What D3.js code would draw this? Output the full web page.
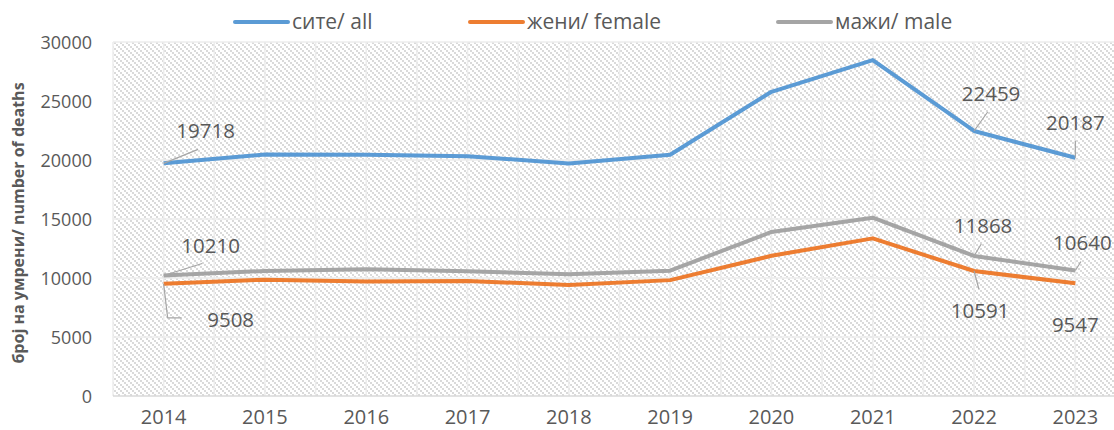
<!DOCTYPE html>
<html>
<head>
<meta charset="utf-8">
<script src="https://cdn.jsdelivr.net/npm/d3@7"></script>
<style>
  body { margin: 0; background: #fff; }
  text { font-family: "Open Sans", sans-serif; fill: #595959; }
</style>
</head>
<body>
<div id="chart"></div>
<script>
const years = ["2014", "2015", "2016", "2017", "2018", "2019", "2020", "2021", "2022", "2023"];
const allDeaths = [19718, 20461, 20451, 20318, 19710, 20446, 25781, 28471, 22459, 20187];
const femaleDeaths = [9508, 9860, 9700, 9750, 9400, 9820, 11880, 13360, 10591, 9547];
const maleDeaths = [10210, 10600, 10750, 10570, 10310, 10620, 13900, 15110, 11868, 10640];
const yTicks = [0, 5000, 10000, 15000, 20000, 25000, 30000];

const series = [
  { name: "сите/ all", values: allDeaths, color: "#5B9BD5", legendX: 235,
    labels: { 0: [42, -32], 8: [17, -37], 9: [0, -35] } },
  { name: "жени/ female", values: femaleDeaths, color: "#ED7D31", legendX: 470,
    labels: { 0: [67, 36], 8: [6, 40], 9: [0, 42] } },
  { name: "мажи/ male", values: maleDeaths, color: "#A5A5A5", legendX: 778,
    labels: { 0: [47, -30], 8: [9, -30], 9: [7, -27] } }
];

const W = 1114, H = 430;
const margin = { left: 113, top: 42, bottom: 34 };
const step = 101.3;

const svg = d3.select("#chart").append("svg")
  .attr("width", W).attr("height", H);

// hatch pattern (downward diagonal made of small squares)
const defs = svg.append("defs");
const pat = defs.append("pattern")
  .attr("id", "hatch")
  .attr("patternUnits", "userSpaceOnUse")
  .attr("width", 6).attr("height", 6);
pat.append("rect").attr("width", 6).attr("height", 6).attr("fill", "#fff");
[0, 2, 4].forEach(d => {
  pat.append("rect").attr("x", d).attr("y", d).attr("width", 2).attr("height", 2).attr("fill", "#dadada");
});

const x = d3.scaleBand().domain(years).range([margin.left, margin.left + step * years.length]);
const y = d3.scaleLinear().domain([0, 30000]).range([H - margin.bottom, margin.top]);
const xc = d => x(d) + x.bandwidth() / 2;

svg.append("rect")
  .attr("x", margin.left).attr("y", y(30000))
  .attr("width", step * years.length).attr("height", y(0) - y(30000))
  .attr("fill", "url(#hatch)");

// gridlines
const grid = svg.append("g").attr("stroke", "#ececec").attr("stroke-width", 1.5);
grid.selectAll(".h").data(yTicks.slice(1)).join("line")
  .attr("x1", margin.left).attr("x2", W)
  .attr("y1", d => y(d)).attr("y2", d => y(d));
const vLines = [];
years.forEach(d => { vLines.push(x(d)); vLines.push(xc(d)); });
grid.selectAll(".v").data(vLines).join("line")
  .attr("x1", d => d).attr("x2", d => d)
  .attr("y1", y(30000)).attr("y2", y(0));

// x axis
svg.append("line")
  .attr("x1", margin.left).attr("x2", W)
  .attr("y1", y(0)).attr("y2", y(0))
  .attr("stroke", "#d9d9d9").attr("stroke-width", 1.5);

svg.append("g").selectAll("text").data(years).join("text")
  .attr("x", d => xc(d)).attr("y", y(0) + 28)
  .attr("text-anchor", "middle").style("font-size", "20px")
  .text(d => d);

svg.append("g").selectAll("text").data(yTicks).join("text")
  .attr("x", 92).attr("y", d => y(d) + 7)
  .attr("text-anchor", "end").style("font-size", "18px")
  .text(d => d);

svg.append("text")
  .attr("transform", `translate(24, ${(y(0) + y(30000)) / 2 + 4}) rotate(-90)`)
  .attr("text-anchor", "middle")
  .style("font-size", "16px").style("font-weight", "bold")
  .text("број на умрени/ number of deaths");

// lines
const line = d3.line()
  .x((d, i) => xc(years[i]))
  .y(d => y(d));

series.forEach(s => {
  svg.append("path")
    .datum(s.values)
    .attr("fill", "none")
    .attr("stroke", s.color)
    .attr("stroke-width", 4)
    .attr("stroke-linejoin", "round")
    .attr("d", line);
});

// data labels with leader lines
series.forEach(s => {
  Object.keys(s.labels).forEach(k => {
    const i = +k;
    const px = xc(years[i]), py = y(s.values[i]);
    const [dx, dy] = s.labels[k];
    const lx = px + dx, ly = py + dy;
    let pts = null;
    if (s.name.startsWith("жени") && i === 0) {
      pts = [[px, py], [px + 4, ly - 2], [px + 18, ly - 2]];
    } else if (!(s.name.startsWith("жени") && i === 9)) {
      const endY = dy < 0 ? ly + 18 : ly - 22;
      const endX = px + dx * (i === 0 ? 0.82 : 0.8);
      pts = [[px, py], [endX, endY]];
    }
    if (pts) {
      svg.append("polyline")
        .attr("points", pts.map(p => p.join(",")).join(" "))
        .attr("fill", "none").attr("stroke", "#a6a6a6").attr("stroke-width", 1.2);
    }
    svg.append("text")
      .attr("x", lx).attr("y", ly + 7)
      .attr("text-anchor", "middle").style("font-size", "20.5px")
      .text(s.values[i]);
  });
});

// legend
const legend = svg.append("g");
series.forEach(s => {
  legend.append("line")
    .attr("x1", s.legendX).attr("x2", s.legendX + 53)
    .attr("y1", 22).attr("y2", 22)
    .attr("stroke", s.color).attr("stroke-width", 4).attr("stroke-linecap", "round");
  legend.append("text")
    .attr("x", s.legendX + 57).attr("y", 29)
    .style("font-size", "21px")
    .text(s.name);
});
</script>
</body>
</html>
